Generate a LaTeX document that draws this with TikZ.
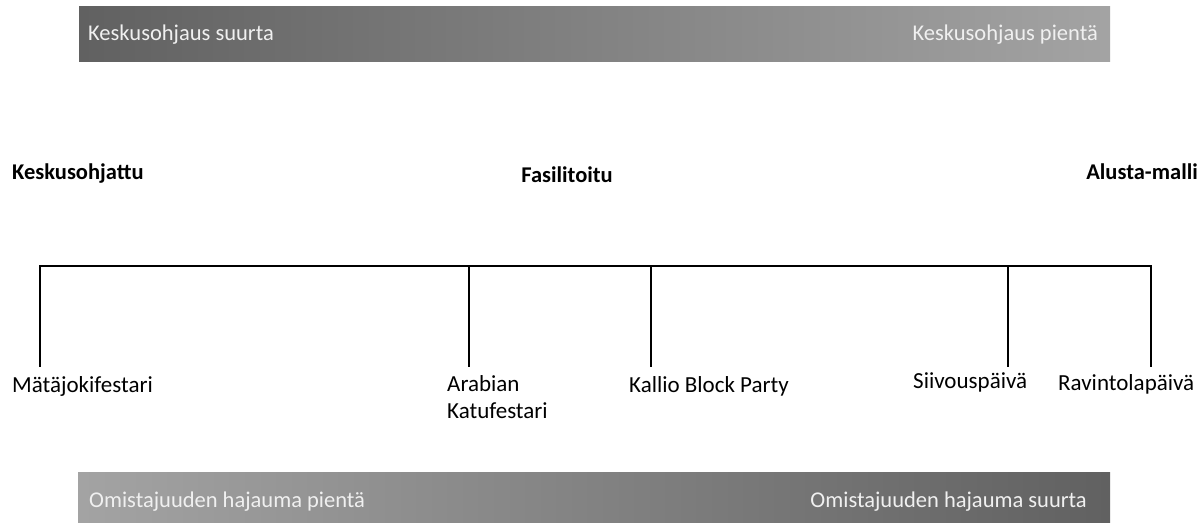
\documentclass[tikz,border=0pt]{standalone}
\usepackage{fontspec}
\setmainfont{Carlito}
\begin{document}
\begin{tikzpicture}[x=1pt,y=-1pt,
  barlabel/.style={text=white!94!black,font=\fontsize{22.5}{26}\selectfont,inner sep=0pt},
  head/.style={font=\bfseries\fontsize{22.5}{26}\selectfont,inner sep=0pt},
  leaf/.style={font=\fontsize{23}{27}\selectfont,inner sep=0pt,align=left},
  tree/.style={line width=1.6pt,line cap=rect}]
\useasboundingbox[fill=white] (0,0) rectangle (1204,522);
% top bar
\shade[left color=black!62,right color=black!36] (79,6) rectangle (1110,61);
\node[barlabel,anchor=base west] (tl) at (88,40) {Keskusohjaus suurta};
\node[barlabel,anchor=base east] (tr) at (1098,40) {Keskusohjaus pientä};
% bottom bar
\shade[left color=black!36,right color=black!62] (78,472) rectangle (1110,522);
\node[barlabel,anchor=base west] (bl) at (89,507) {Omistajuuden hajauma pientä};
\node[barlabel,anchor=base east] (br) at (1087,507) {Omistajuuden hajauma suurta};
% headings
\node[head,anchor=base west] (k) at (12,179) {Keskusohjattu};
\node[head,anchor=base] (f) at (567,182) {Fasilitoitu};
\node[head,anchor=base east] (a) at (1198,179) {Alusta-malli};
% tree
\coordinate (t1) at (40,266);
\coordinate (t2) at (469,266);
\coordinate (t3) at (651,266);
\coordinate (t4) at (1008,266);
\coordinate (t5) at (1151,266);
\coordinate (b1) at (40,366);
\coordinate (b2) at (469,366);
\coordinate (b3) at (651,366);
\coordinate (b4) at (1008,366);
\coordinate (b5) at (1151,366);
\draw[tree] (t1) -- (t5);
\draw[tree] (t1) -- (b1);
\draw[tree] (t2) -- (b2);
\draw[tree] (t3) -- (b3);
\draw[tree] (t4) -- (b4);
\draw[tree] (t5) -- (b5);
% leaves
\node[leaf,anchor=base west] (l1) at (12,392) {Mätäjokifestari};
\node[leaf,anchor=base west] (l2) at (447,418) {Arabian\\Katufestari};
\node[leaf,anchor=base west] (l3) at (629,392) {Kallio Block Party};
\node[leaf,anchor=base west] (l4) at (913,388) {Siivouspäivä};
\node[leaf,anchor=base west] (l5) at (1058,390) {Ravintolapäivä};
\end{tikzpicture}
\end{document}
